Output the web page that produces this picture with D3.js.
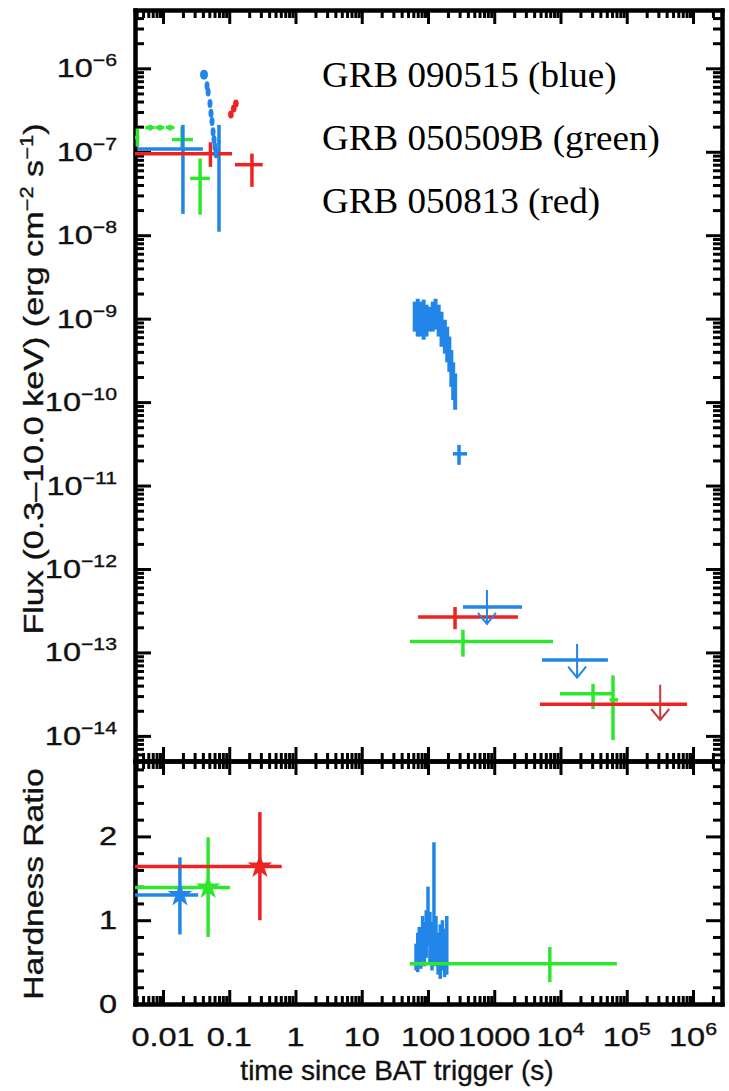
<!DOCTYPE html>
<html>
<head>
<meta charset="utf-8">
<script src="https://d3js.org/d3.v7.min.js"></script>
<style>
  body { margin: 0; background: #fff; }
  .axis text { display: none; }
  .axis line { stroke: #000; stroke-width: 3; }
  .axis path { stroke: #000; stroke-width: 4; stroke-linecap: square; }
  .lbl { font-family: "Liberation Sans", Arial, sans-serif; fill: #111; stroke: #111; stroke-width: 0.35; }
  .legend { font-family: "Liberation Serif", "Times New Roman", serif; fill: #000; }
</style>
</head>
<body>
<div class="chart"></div>
<script>
var svgWidth = 729;
var svgHeight = 1091;

var margin = { top: 10, left: 135, right: 7 };
var width = svgWidth - margin.left - margin.right;
var fluxHeight = 751;
var hrHeight = 243;

// tick labels
var timeTicks = [0.01, 0.1, 1, 10, 100, 1000, 1e4, 1e5, 1e6];
var timeTickLabels = ["0.01", "0.1", "1", "10", "100", "1000", "10^4", "10^5", "10^6"];
var fluxTickExps = [-6, -7, -8, -9, -10, -11, -12, -13, -14];
var hrTicks = [0, 1, 2];

var legendLabels = ["GRB 090515 (blue)", "GRB 050509B (green)", "GRB 050813 (red)"];

// flux points: [t, tLo, tHi, flux, fluxLo, fluxHi]
var blueFlux = [
  [0.020, 0.0041, 0.040, 1.08e-7, 1.8e-8, 2.1e-7],
  [0.070, 0.066, 0.074, 1.3e-7, 1.1e-8, 2.1e-7],
  [294, 238, 388, 2.4e-11, 1.77e-11, 3.07e-11]
];
var greenFlux = [
  [0.0041, 0.0036, 0.0044, 1.48e-7, 1.15e-7, 1.9e-7],
  [0.0064, 0.0054, 0.0075, 1.95e-7, 1.8e-7, 2.1e-7],
  [0.0090, 0.0077, 0.0105, 1.95e-7, 1.8e-7, 2.1e-7],
  [0.0128, 0.0110, 0.0148, 1.95e-7, 1.8e-7, 2.1e-7],
  [0.0194, 0.0137, 0.0284, 1.4e-7, 1.1e-7, 2.0e-7],
  [0.0363, 0.0257, 0.051, 4.8e-8, 1.76e-8, 8.3e-8],
  [337, 53.5, 7700, 1.35e-13, 8.9e-14, 1.87e-13],
  [3.1e4, 9800, 6.2e4, 3.2e-14, 2.1e-14, 4.2e-14],
  [6.2e4, 5.5e4, 7.4e4, 2.7e-14, 8.9e-15, 5.3e-14]
];
var redFlux = [
  [0.052, 0.003, 0.110, 9.5e-8, 6.6e-8, 1.3e-7],
  [0.22, 0.122, 0.32, 7.0e-8, 3.8e-8, 9.5e-8],
  [256, 71, 2280, 2.66e-13, 1.9e-13, 3.5e-13]
];

// early single points: [t, flux]
var blueDots = [
  [0.0416, 8.4e-7], [0.0462, 6.2e-7], [0.048, 5.2e-7], [0.0512, 3.8e-7],
  [0.053, 2.9e-7], [0.055, 2.3e-7], [0.057, 1.74e-7], [0.059, 1.4e-7],
  [0.061, 1.15e-7], [0.063, 9.5e-8]
];
var redDots = [[0.106, 2.8e-7], [0.117, 3.3e-7], [0.126, 3.8e-7]];

// GRB 090515 steep decay: [t, flux, fluxLo, fluxHi]
var blueDecay = [
  [63, 1.1e-9, 7.0e-10, 1.6e-9],
  [70, 1.05e-9, 6.1e-10, 1.73e-9],
  [78, 1.0e-9, 6.1e-10, 1.6e-9],
  [86, 1.0e-9, 5.6e-10, 1.69e-9],
  [95, 9.5e-10, 6.1e-10, 1.47e-9],
  [105, 1.0e-9, 7.0e-10, 1.39e-9],
  [118, 1.05e-9, 7.0e-10, 1.6e-9],
  [130, 1.1e-9, 7.4e-10, 1.73e-9],
  [145, 9.5e-10, 6.1e-10, 1.47e-9],
  [160, 7.5e-10, 4.6e-10, 1.21e-9],
  [180, 6.0e-10, 3.8e-10, 9.7e-10],
  [195, 4.9e-10, 3.0e-10, 8.0e-10],
  [210, 3.8e-10, 2.3e-10, 6.1e-10],
  [225, 2.5e-10, 1.52e-10, 4.2e-10],
  [240, 1.8e-10, 1.06e-10, 3.0e-10],
  [257, 1.3e-10, 8.1e-11, 2.2e-10]
];

// upper limits: [t, tLo, tHi, flux, arrowTop, arrowTip]
var blueLimits = [
  [776, 337, 2620, 3.5e-13, 5.6e-13, 2.2e-13],
  [1.78e4, 5250, 5.2e4, 8.1e-14, 1.26e-13, 5.0e-14]
];
var redLimits = [
  [3.2e5, 4900, 8.1e5, 2.4e-14, 4.1e-14, 1.55e-14]
];

// hardness ratio: [t, tLo, tHi, hr, hrLo, hrHi]
var blueHR = [[0.018, 0.003, 0.034, 1.30, 0.83, 1.75]];
var greenHR = [
  [0.048, 0.003, 0.1025, 1.39, 0.80, 1.99],
  [6900, 53, 7.1e4, 0.48, 0.26, 0.68]
];
var redHR = [[0.29, 0.003, 0.62, 1.64, 1.00, 2.29]];
// GRB 090515 hardness during decay: [t, hr, hrLo, hrHi]
var blueHRDecay = [
  [66, 0.55, 0.40, 0.72], [70, 0.62, 0.38, 0.85], [74, 0.70, 0.48, 0.92],
  [78, 0.66, 0.42, 0.90], [83, 0.78, 0.52, 1.05], [88, 0.72, 0.45, 0.98],
  [94, 0.85, 0.55, 1.12], [100, 1.05, 0.70, 1.40], [107, 0.80, 0.50, 1.10],
  [115, 0.70, 0.40, 0.98], [123, 1.20, 0.46, 1.93], [132, 0.75, 0.45, 1.05],
  [142, 0.60, 0.35, 0.85], [153, 0.68, 0.30, 0.95], [165, 0.72, 0.40, 1.00],
  [178, 0.60, 0.32, 0.90], [192, 0.66, 0.35, 1.05]
];

var blue = "#2286e8";
var green = "#2fe62f";
var red = "#ee2222";

var svg = d3.select(".chart")
  .append("svg")
  .attr("width", svgWidth)
  .attr("height", svgHeight);

var xScale = d3.scaleLog().domain([0.00378, 2.74e6]).range([0, width]);
var yFlux = d3.scaleLog().domain([5e-15, 5e-6]).range([fluxHeight, 0]);
var yHR = d3.scaleLinear().domain([0, 2.9]).range([hrHeight, 0]);

var defs = svg.append("defs");
defs.append("clipPath").attr("id", "clipFlux")
  .append("rect").attr("width", width).attr("height", fluxHeight);
defs.append("clipPath").attr("id", "clipHR")
  .append("rect").attr("width", width).attr("height", hrHeight);

var fluxGroup = svg.append("g")
  .attr("transform", `translate(${margin.left}, ${margin.top})`);
var hrGroup = svg.append("g")
  .attr("transform", `translate(${margin.left}, ${margin.top + fluxHeight})`);

function isMajor(v) {
  var l = Math.log10(v);
  return Math.abs(l - Math.round(l)) < 1e-6;
}

// x ticks on top and bottom of a panel, pointing inward
function timeAxes(group, h) {
  var all = xScale.ticks();
  var major = all.filter(isMajor);
  var minor = all.filter(d => !isMajor(d));
  [[major, 14], [minor, 8]].forEach(function(s) {
    group.append("g").attr("class", "axis")
      .attr("transform", `translate(0, ${h})`)
      .call(d3.axisBottom(xScale).tickValues(s[0]).tickSize(-s[1]).tickSizeOuter(0));
    group.append("g").attr("class", "axis")
      .call(d3.axisTop(xScale).tickValues(s[0]).tickSize(-s[1]).tickSizeOuter(0));
  });
}

function valueAxes(group, scale, major, minor) {
  [[major, 16], [minor, 9]].forEach(function(s) {
    group.append("g").attr("class", "axis")
      .call(d3.axisLeft(scale).tickValues(s[0]).tickSize(-s[1]).tickSizeOuter(0));
    group.append("g").attr("class", "axis")
      .attr("transform", `translate(${width}, 0)`)
      .call(d3.axisRight(scale).tickValues(s[0]).tickSize(-s[1]).tickSizeOuter(0));
  });
}

var fluxAll = yFlux.ticks();
valueAxes(fluxGroup, yFlux, fluxAll.filter(isMajor), fluxAll.filter(d => !isMajor(d)));
timeAxes(fluxGroup, fluxHeight);

var hrMinor = d3.range(0, 2.95, 0.2).filter(d => Math.abs(d - Math.round(d)) > 0.01);
valueAxes(hrGroup, yHR, hrTicks, hrMinor);
timeAxes(hrGroup, hrHeight);

// data layers
var fluxData = fluxGroup.append("g").attr("clip-path", "url(#clipFlux)");
var hrData = hrGroup.append("g").attr("clip-path", "url(#clipHR)");

function crosses(layer, rows, yScale, color, sw) {
  var g = layer.append("g").attr("stroke", color).attr("stroke-width", sw);
  g.selectAll(".h").data(rows).enter().append("line")
    .attr("x1", d => xScale(d[1])).attr("x2", d => xScale(d[2]))
    .attr("y1", d => yScale(d[3])).attr("y2", d => yScale(d[3]));
  g.selectAll(".v").data(rows).enter().append("line")
    .attr("x1", d => xScale(d[0])).attr("x2", d => xScale(d[0]))
    .attr("y1", d => yScale(d[4])).attr("y2", d => yScale(d[5]));
}

function bars(layer, rows, yScale, color, sw) {
  layer.append("g").attr("stroke", color).attr("stroke-width", sw)
    .selectAll("line").data(rows).enter().append("line")
    .attr("x1", d => xScale(d[0])).attr("x2", d => xScale(d[0]))
    .attr("y1", d => yScale(d[2])).attr("y2", d => yScale(d[3]));
}

function limits(layer, rows, barColor, arrowColor) {
  var g = layer.append("g");
  g.selectAll(".h").data(rows).enter().append("line")
    .attr("stroke", barColor).attr("stroke-width", 3.5)
    .attr("x1", d => xScale(d[1])).attr("x2", d => xScale(d[2]))
    .attr("y1", d => yFlux(d[3])).attr("y2", d => yFlux(d[3]));
  g.selectAll(".a").data(rows).enter().append("path")
    .attr("fill", "none").attr("stroke", arrowColor).attr("stroke-width", 2)
    .attr("d", function(d) {
      var x = xScale(d[0]), tip = yFlux(d[5]);
      return `M${x},${yFlux(d[4])}V${tip}M${x - 9},${tip - 11}L${x},${tip}L${x + 9},${tip - 11}`;
    });
}

// flux panel
bars(fluxData, blueDecay.map(d => [d[0], d[1], d[2], d[3]]), yFlux, blue, 4);
crosses(fluxData, greenFlux, yFlux, green, 3.5);
crosses(fluxData, blueFlux, yFlux, blue, 3.5);
crosses(fluxData, redFlux, yFlux, red, 3.5);
limits(fluxData, blueLimits, blue, blue);
limits(fluxData, redLimits, red, "#c83a3a");

fluxData.append("g").attr("fill", blue)
  .selectAll("ellipse").data(blueDots).enter().append("ellipse")
  .attr("cx", d => xScale(d[0])).attr("cy", d => yFlux(d[1]))
  .attr("rx", (d, i) => i === 0 ? 4 : 2.5).attr("ry", (d, i) => i === 0 ? 5 : 4.5);
fluxData.append("g").attr("fill", red)
  .selectAll("ellipse").data(redDots).enter().append("ellipse")
  .attr("cx", d => xScale(d[0])).attr("cy", d => yFlux(d[1]))
  .attr("rx", 2.8).attr("ry", 4);

// hardness ratio panel
bars(hrData, blueHRDecay, yHR, blue, 3.5);
crosses(hrData, greenHR, yHR, green, 3.5);
crosses(hrData, blueHR, yHR, blue, 3.5);
crosses(hrData, redHR, yHR, red, 3.5);

var star = d3.symbol().type(d3.symbolStar).size(190);
[[blueHR, blue], [greenHR, green], [redHR, red]].forEach(function(s) {
  hrData.append("g").attr("fill", s[1])
    .selectAll("path").data(s[0].filter(d => d[0] < 1)).enter().append("path")
    .attr("d", star)
    .attr("transform", d => `translate(${xScale(d[0])}, ${yHR(d[3])})`);
});

// tick labels (glyphs in the original are drawn wide)
var wide = 1.25;
var fluxLabels = svg.append("g").attr("class", "lbl").attr("font-size", 26)
  .attr("text-anchor", "end");
fluxTickExps.forEach(function(e) {
  var t = fluxLabels.append("text")
    .attr("transform", `translate(117, ${margin.top + yFlux(Math.pow(10, e)) + 9}) scale(${wide}, 1)`)
    .text("10");
  t.append("tspan").attr("font-size", 17).attr("dy", -11).text("\u2212" + Math.abs(e));
});

var hrLabels = svg.append("g").attr("class", "lbl").attr("font-size", 26)
  .attr("text-anchor", "end");
hrLabels.selectAll("text").data(hrTicks).enter().append("text")
  .attr("transform", d => `translate(117, ${margin.top + fluxHeight + yHR(d) + 9}) scale(${wide}, 1)`)
  .text(d => d);

var timeLabels = svg.append("g").attr("class", "lbl").attr("font-size", 26)
  .attr("text-anchor", "middle");
timeTicks.forEach(function(v, i) {
  var parts = timeTickLabels[i].split("^");
  var t = timeLabels.append("text")
    .attr("transform", `translate(${margin.left + xScale(v)}, 1046) scale(${wide}, 1)`)
    .text(parts[0]);
  if (parts[1]) {
    t.append("tspan").attr("font-size", 17).attr("dy", -11).text(parts[1]);
  }
});

// axis titles
svg.append("text").attr("class", "lbl")
  .attr("font-size", 28)
  .attr("text-anchor", "middle")
  .attr("x", 397).attr("y", 1080)
  .text("time since BAT trigger (s)");

var yTitle = svg.append("text").attr("class", "lbl")
  .attr("font-size", 28)
  .attr("text-anchor", "middle")
  .attr("transform", "translate(43, 379) rotate(-90) scale(1.22, 1)");
yTitle.append("tspan").text("Flux (0.3\u201310.0 keV) (erg cm");
yTitle.append("tspan").attr("font-size", 18).attr("dy", -10).text("\u22122");
yTitle.append("tspan").attr("dy", 10).text(" s");
yTitle.append("tspan").attr("font-size", 18).attr("dy", -10).text("\u22121");
yTitle.append("tspan").attr("dy", 10).text(")");

svg.append("text").attr("class", "lbl")
  .attr("font-size", 28)
  .attr("text-anchor", "middle")
  .attr("transform", "translate(43, 884) rotate(-90) scale(1.2, 1)")
  .text("Hardness Ratio");

// legend
svg.append("g").attr("class", "legend").attr("font-size", 35)
  .selectAll("text").data(legendLabels).enter().append("text")
  .attr("transform", (d, i) => `translate(322, ${87 + i * 63}) scale(1.06, 1)`)
  .text(d => d);
</script>
</body>
</html>
